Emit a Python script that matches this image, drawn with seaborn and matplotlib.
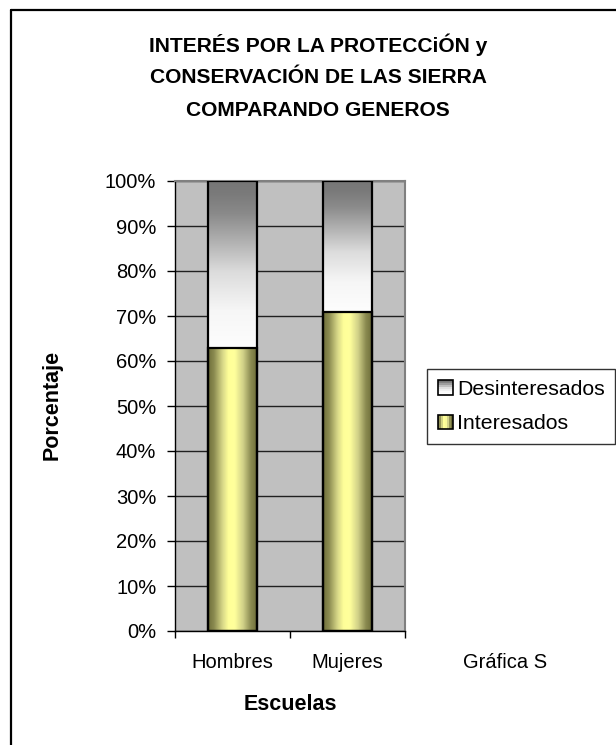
import numpy as np
import pandas as pd
import matplotlib
matplotlib.use("Agg")
import matplotlib.pyplot as plt
import seaborn as sns
from matplotlib.colors import LinearSegmentedColormap
from matplotlib.legend_handler import HandlerBase
from matplotlib.patches import Rectangle
from matplotlib.lines import Line2D

categorias = ["Hombres", "Mujeres"]
interesados = [63, 71]
desinteresados = [37, 29]
series = ["Desinteresados", "Interesados"]
yticks = [0, 10, 20, 30, 40, 50, 60, 70, 80, 90, 100]
titulo = ["INTERÉS POR LA PROTECCiÓN y", "CONSERVACIÓN DE LAS SIERRA", "COMPARANDO GENEROS"]

sns.set_theme(style="white")
plt.rcParams['font.family'] = ['Liberation Sans', 'DejaVu Sans']
for key in ["text.color", "axes.labelcolor", "xtick.color", "ytick.color"]:
    plt.rcParams[key] = "black"

df = pd.DataFrame({
    "Escuela": categorias,
    "Interesados": interesados,
    "Total": [a + b for a, b in zip(interesados, desinteresados)],
})

fig = plt.figure(figsize=(6.16, 7.45), dpi=100)
fig.patch.set_facecolor("white")
ax = fig.add_axes([175/616, 1-631/745, 230/616, 450/745])
ax.set_facecolor("#C0C0C0")

bw = 0.42
sns.barplot(data=df, x="Escuela", y="Total", color="white", width=bw, ax=ax,
            edgecolor="black", linewidth=1.6, zorder=3)
n_top = len(ax.patches)
sns.barplot(data=df, x="Escuela", y="Interesados", color="yellow", width=bw, ax=ax,
            edgecolor="black", linewidth=1.6, zorder=3)

gray_cmap = LinearSegmentedColormap.from_list(
    "g", [(0.0, "#fdfdfd"), (0.22, "#f6f6f6"), (0.45, "#dcdcdc"), (0.62, "#b4b4b4"),
          (0.8, "#8a8a8a"), (0.92, "#7a7a7a"), (1.0, "#767676")])
yel_cmap = LinearSegmentedColormap.from_list(
    "y", [(0.0, "#6e6e3a"), (0.12, "#8a8a50"), (0.3, "#d8d888"), (0.42, "#ffff99"),
          (0.55, "#ffff9c"), (0.72, "#d0d088"), (0.88, "#8a8a50"), (1.0, "#6e6e3a")])

patches = list(ax.patches)
top_patches = patches[:n_top]
bot_patches = patches[n_top:]
for pt, pb in zip(top_patches, bot_patches):
    x0, w = pt.get_x(), pt.get_width()
    ybot = pb.get_y() + pb.get_height()
    ytop = pt.get_y() + pt.get_height()
    grad = np.linspace(0, 1, 256).reshape(-1, 1)
    img = ax.imshow(grad, cmap=gray_cmap, origin="lower", aspect="auto",
                    extent=[x0, x0 + w, ybot, ytop], zorder=2.5)
    img.set_clip_path(pt)
    pt.set_facecolor("none")
    pt.set_zorder(3.5)
    x0, w = pb.get_x(), pb.get_width()
    grad = np.linspace(0, 1, 256).reshape(1, -1)
    img = ax.imshow(grad, cmap=yel_cmap, origin="lower", aspect="auto",
                    extent=[x0, x0 + w, pb.get_y(), ybot], zorder=2.6)
    img.set_clip_path(pb)
    pb.set_facecolor("none")
    pb.set_zorder(4)

ax.set_xlim(-0.5, 1.5)
ax.set_ylim(0, 100)
ax.set_yticks(yticks)
ax.set_yticklabels([f"{v}%" for v in yticks], fontsize=14.5)
ax.yaxis.grid(True, color="#202020", linewidth=1.0)
ax.set_axisbelow(True)
ax.set_xticks([0, 1])
ax.set_xticklabels(categorias, fontsize=14.5)
ax.set_xticks([-0.5, 0.5, 1.5], minor=True)
ax.tick_params(axis="x", which="major", length=0, pad=16)
ax.tick_params(axis="x", which="minor", length=5, width=1, color="black", direction="out", bottom=True)
ax.tick_params(axis="y", length=6, width=1, color="black", direction="out", left=True, pad=7.5)
ax.set_xlabel("")
ax.set_ylabel("")
for s in ["left", "bottom"]:
    ax.spines[s].set_color("black")
    ax.spines[s].set_linewidth(1.0)
for s in ["top", "right"]:
    ax.spines[s].set_color("#808080")
    ax.spines[s].set_linewidth(1.5)

# titles and labels
for k, line in enumerate(titulo):
    fig.text(318/616, 1 - (45 + 32.5*k)/745, line, ha="center", va="center",
             fontsize=15.1, fontweight="bold")
fig.text(52/616, 1 - 405/745, "Porcentaje", rotation=90, ha="center", va="center",
         fontsize=15.5, fontweight="bold")
fig.text(290/616, 1 - 705/745, "Escuelas", ha="center", va="center",
         fontsize=15.5, fontweight="bold")
fig.text(505/616, 1 - 663/745, "Gráfica S", ha="center", va="center", fontsize=14.5)


class GradHandler(HandlerBase):
    def __init__(self, colors, horizontal):
        super().__init__()
        self.colors = colors
        self.horizontal = horizontal

    def create_artists(self, legend, orig_handle, xdescent, ydescent, width, height, fontsize, trans):
        size = min(width, height)
        x0 = -xdescent + (width - size) / 2
        y0 = -ydescent + (height - size) / 2
        n = len(self.colors)
        arts = []
        for j, c in enumerate(self.colors):
            if self.horizontal:
                r = Rectangle((x0 + j*size/n, y0), size/n, size, facecolor=c, edgecolor="none", transform=trans)
            else:
                r = Rectangle((x0, y0 + size - (j+1)*size/n), size, size/n, facecolor=c, edgecolor="none", transform=trans)
            arts.append(r)
        arts.append(Rectangle((x0, y0), size, size, facecolor="none", edgecolor="black", lw=1.2, transform=trans))
        return arts


h_des = Rectangle((0, 0), 1, 1)
h_int = Rectangle((0, 0), 1, 1)
gray_cols = [gray_cmap(v) for v in np.linspace(1, 0, 8)]
yel_cols = [yel_cmap(v) for v in np.linspace(0, 1, 8)]
leg = fig.legend([h_des, h_int], series, loc="center left",
                 bbox_to_anchor=(427/616, 1 - 406.5/745), fontsize=15.3,
                 handler_map={h_des: GradHandler(gray_cols, False), h_int: GradHandler(yel_cols, True)},
                 handlelength=0.7, handleheight=0.7, handletextpad=0.2,
                 labelspacing=0.75, borderpad=0.5, borderaxespad=0,
                 frameon=True, fancybox=False)
leg.get_frame().set_edgecolor("black")
leg.get_frame().set_linewidth(1.0)
leg.get_frame().set_facecolor("white")

# chart area border (top and left)
fig.add_artist(Line2D([11/616, 1], [1 - 9.5/745, 1 - 9.5/745], transform=fig.transFigure, color="black", lw=1.6))
fig.add_artist(Line2D([11/616, 11/616], [0, 1 - 9.5/745], transform=fig.transFigure, color="black", lw=1.6))

fig.savefig("out.png", dpi=100)
